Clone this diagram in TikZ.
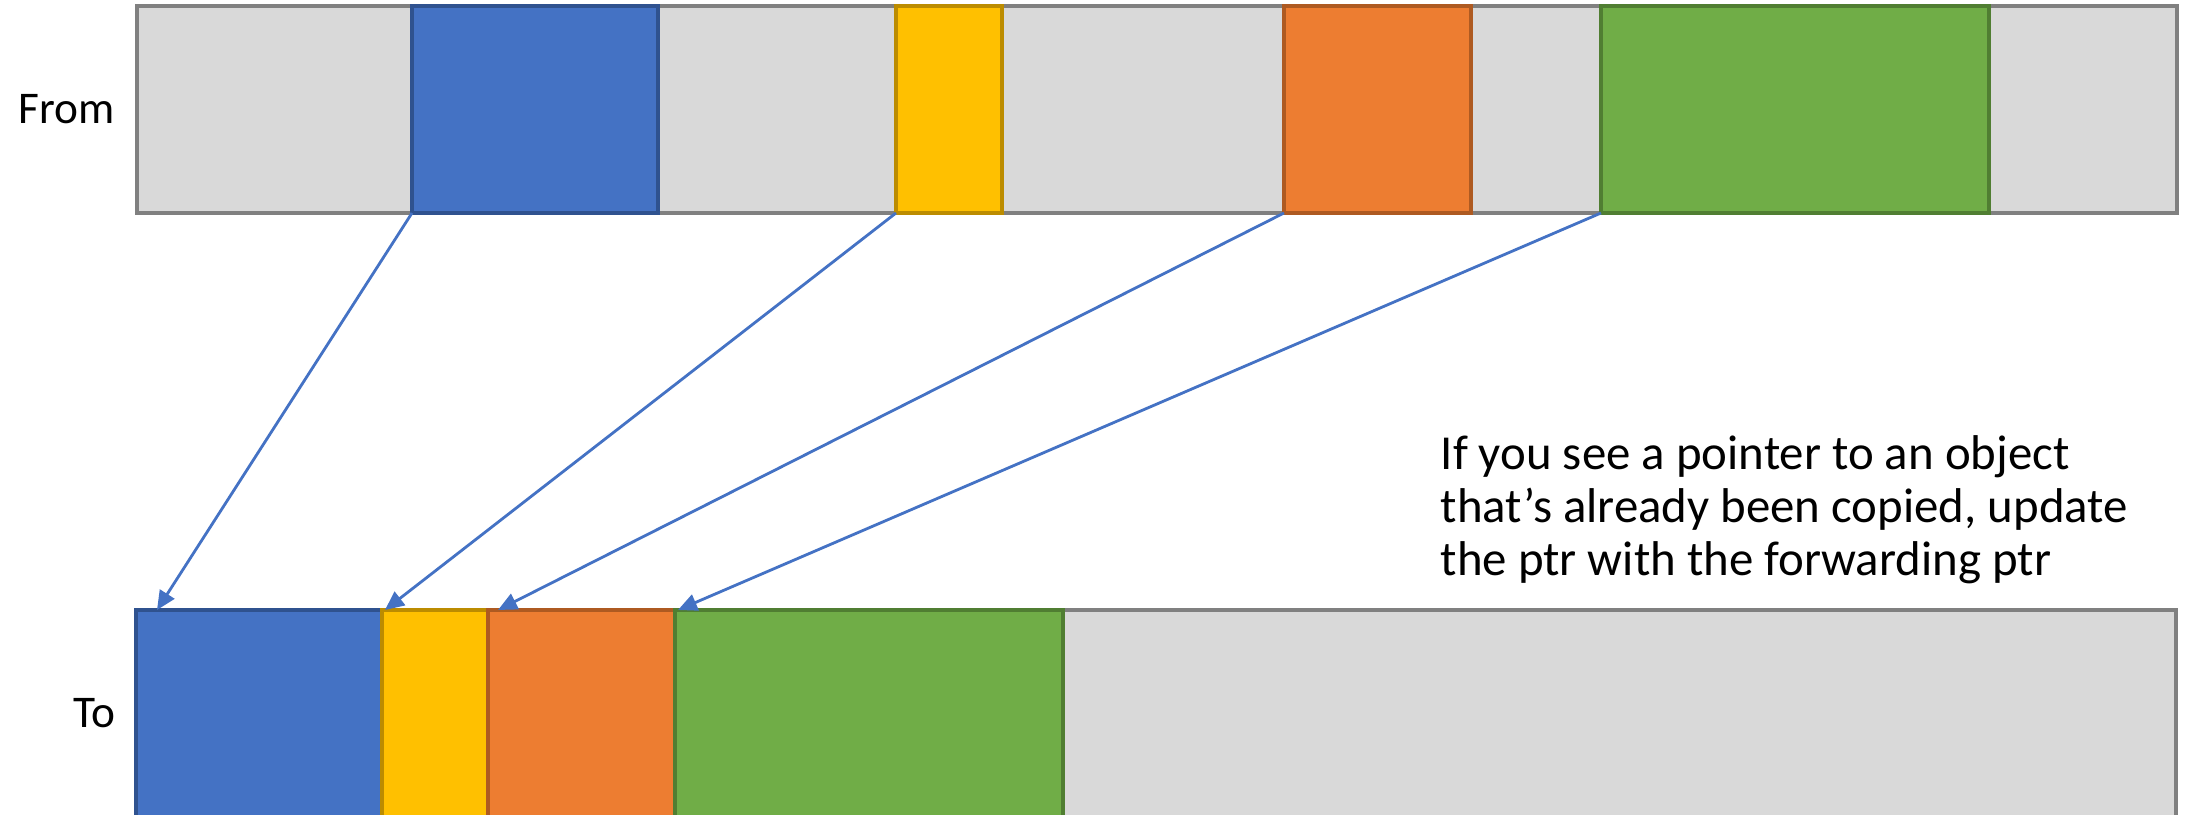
\documentclass[tikz,border=0pt]{standalone}
\usepackage{fontspec}
\setmainfont{Carlito}
\usetikzlibrary{arrows.meta,positioning}
\definecolor{GcGrey}{HTML}{D9D9D9}
\definecolor{GcGreyLine}{HTML}{808080}
\definecolor{GcBlue}{HTML}{4472C4}
\definecolor{GcBlueLine}{HTML}{2F528F}
\definecolor{GcYellow}{HTML}{FFC000}
\definecolor{GcYellowLine}{HTML}{BC8C00}
\definecolor{GcOrange}{HTML}{ED7D31}
\definecolor{GcOrangeLine}{HTML}{AE5A21}
\definecolor{GcGreen}{HTML}{70AD47}
\definecolor{GcGreenLine}{HTML}{507E32}

\begin{document}
\begin{tikzpicture}[font=\fontsize{12.9}{15}\selectfont,
  heap/.style={draw=GcGreyLine,fill=GcGrey,line width=0.9pt,anchor=north west,inner sep=0pt,outer sep=0pt,minimum width=20.4cm,minimum height=2.07cm},
  obj/.style={line width=0.9pt,anchor=north west,inner sep=0pt,outer sep=0pt,minimum height=2.07cm},
  blueobj/.style={obj,draw=GcBlueLine,fill=GcBlue,minimum width=2.46cm},
  yellowobj/.style={obj,draw=GcYellowLine,fill=GcYellow,minimum width=1.06cm},
  orangeobj/.style={obj,draw=GcOrangeLine,fill=GcOrange,minimum width=1.87cm},
  greenobj/.style={obj,draw=GcGreenLine,fill=GcGreen,minimum width=3.88cm},
  fwd/.style={-{Triangle[length=1.9mm,width=1.7mm]},GcBlue,line width=0.8pt}]
  \useasboundingbox (0,0) rectangle (21.88,-8.15);
  % from-space
  \node[heap] (fromheap) at (1.37,-0.06) {};
  \node[blueobj] (fblue) at (4.12,-0.06) {};
  \node[yellowobj] (fyellow) at (8.96,-0.06) {};
  \node[orangeobj] (forange) at (12.84,-0.06) {};
  \node[greenobj] (fgreen) at (16.01,-0.06) {};
  \node[left=0.22cm of fromheap,inner sep=0pt] (fromlbl) {From};
  % to-space
  \node[heap] (toheap) at (1.36,-6.1) {};
  \node[blueobj] (tblue) at (1.36,-6.1) {};
  \node[yellowobj,right=0pt of tblue] (tyellow) {};
  \node[orangeobj,right=0pt of tyellow] (torange) {};
  \node[greenobj,right=0pt of torange] (tgreen) {};
  \node[left=0.2cm of toheap,inner sep=0pt] (tolbl) {To};
  \foreach \a/\b/\s in {fblue/tblue/0.21,fyellow/tyellow/0.03,forange/torange/0.1,fgreen/tgreen/0.03}{\draw[fwd] (\a.south west) -- ([xshift=\s cm]\b.north west);}
  \node[anchor=west,align=left,inner sep=0pt,font=\fontsize{13.9}{15.1}\selectfont] (note) at (14.4,-5.1) {If you see a pointer to an object\\that’s already been copied, update\\the ptr with the forwarding ptr};
\end{tikzpicture}
\end{document}
